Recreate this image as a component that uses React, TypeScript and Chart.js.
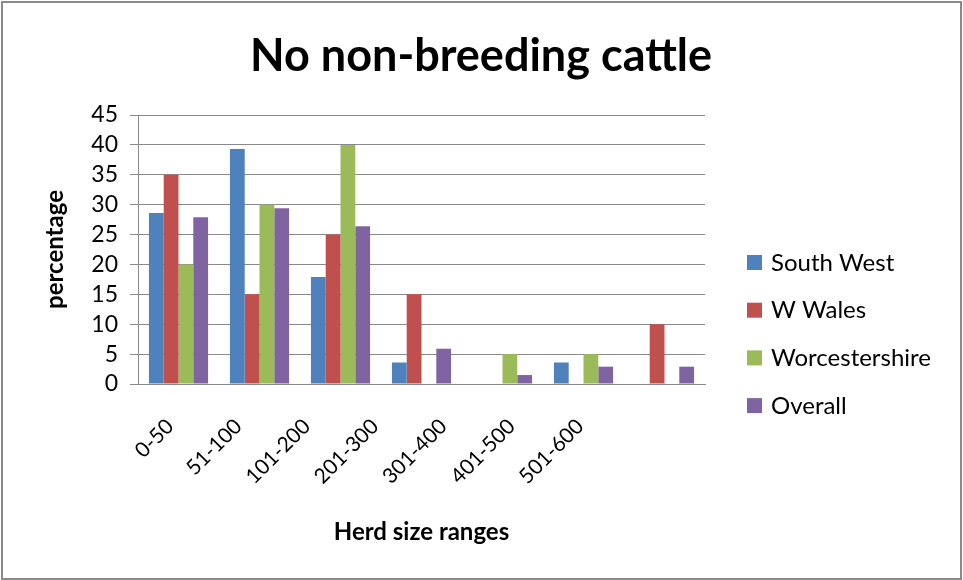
import React, { useEffect, useRef } from "react";
import { Chart, registerables } from "chart.js";

Chart.register(...registerables);

const categories = ["0-50", "51-100", "101-200", "201-300", "301-400", "401-500", "501-600"];
const seriesNames = ["South West", "W Wales", "Worcestershire", "Overall"];
const southWest = [28.6, 39.3, 17.9, 3.6, 0, 3.6, 0];
const wWales = [35, 15, 25, 15, 0, 0, 10];
const worcestershire = [20, 30, 40, 0, 5, 5, 0];
const overall = [27.9, 29.4, 26.4, 5.9, 1.5, 2.9, 2.9];
const seriesColors = ["#4F81BD", "#C0504D", "#9BBB59", "#8064A2"];
const yTicks = [0, 5, 10, 15, 20, 25, 30, 35, 40, 45];
const chartTitle = "No non-breeding cattle";

const FONT = "Lato, 'Open Sans', sans-serif";

const frameTitleLegend = {
  id: "frameTitleLegend",
  beforeDraw(chart: any) {
    const { ctx, width, height } = chart;
    ctx.save();
    ctx.fillStyle = "#ffffff";
    ctx.fillRect(0, 0, width, height);
    ctx.strokeStyle = "#8a8a8a";
    ctx.lineWidth = 2;
    ctx.strokeRect(2, 2, width - 4, height - 3);
    ctx.restore();
  },
  afterDraw(chart: any) {
    const { ctx } = chart;
    ctx.save();
    // title
    ctx.font = `bold 45px ${FONT}`;
    ctx.fillStyle = "#000000";
    ctx.textAlign = "center";
    ctx.textBaseline = "alphabetic";
    ctx.fillText(chartTitle, 481, 71);
    // legend
    const x0 = 747;
    const yStart = 262;
    const step = 47.7;
    ctx.font = `24px ${FONT}`;
    ctx.textBaseline = "middle";
    ctx.textAlign = "left";
    chart.data.datasets.forEach((ds: any, i: number) => {
      const y = yStart + i * step;
      ctx.fillStyle = ds.backgroundColor;
      ctx.fillRect(x0, y - 7, 15, 15);
      ctx.fillStyle = "#000000";
      ctx.fillText(ds.label, x0 + 24, y + 1);
    });
    ctx.restore();
  },
};

export default function App() {
  const ref = useRef<HTMLCanvasElement | null>(null);
  useEffect(() => {
    document.body.style.margin = "0";
    const canvas = ref.current!;
    const values = [southWest, wWales, worcestershire, overall];
    const chart = new Chart(canvas, {
      type: "bar",
      data: {
        labels: categories,
        datasets: seriesNames.map((name, i) => ({
          label: name,
          data: values[i],
          backgroundColor: seriesColors[i],
          borderWidth: 0,
          barPercentage: 1,
          categoryPercentage: 0.73,
          xAxisID: "x",
        })),
      },
      options: {
        responsive: false,
        animation: false,
        devicePixelRatio: 1,
        layout: { padding: { left: 0, right: 258, top: 115, bottom: 0 } },
        plugins: {
          legend: { display: false },
          tooltip: { enabled: false },
          title: { display: false },
        },
        scales: {
          x: {
            type: "category",
            position: "bottom",
            weight: 0,
            grid: { display: false },
            border: { display: true, color: "#8a8a8a", width: 1 },
            ticks: { display: false },
            afterFit(scale: any) {
              scale.height = 0;
            },
          },
          xl: {
            type: "linear",
            position: "bottom",
            weight: 1,
            bounds: "data",
            offset: false,
            min: -0.47,
            max: 7.83,
            afterBuildTicks(scale: any) {
              scale.ticks = categories.map((_, i) => ({ value: i }));
            },
            grid: { display: false },
            border: { display: false },
            ticks: {
              color: "#000000",
              font: { family: FONT, size: 21 },
              minRotation: 45,
              maxRotation: 45,
              padding: 22,
              autoSkip: false,
              callback: (v: any) => categories[Math.round(Number(v))] ?? "",
            },
            title: {
              display: true,
              text: "Herd size ranges",
              color: "#000000",
              font: { family: FONT, size: 24, weight: "bold" },
              padding: { top: 4, bottom: 33 },
            },
            afterFit(scale: any) {
              scale.height = 196;
            },
          },
          y: {
            min: 0,
            max: 45,
            afterBuildTicks(scale: any) {
              scale.ticks = yTicks.map((v) => ({ value: v }));
            },
            grid: { color: "#8a8a8a", tickLength: 8, drawTicks: true },
            border: { display: true, color: "#8a8a8a", width: 1 },
            ticks: {
              color: "#000000",
              font: { family: FONT, size: 23 },
              padding: 12,
              autoSkip: false,
            },
            title: {
              display: true,
              text: "percentage",
              color: "#000000",
              font: { family: FONT, size: 24, weight: "bold" },
              padding: { top: 41, bottom: 4 },
            },
            afterFit(scale: any) {
              scale.width = 138;
            },
          },
        },
      },
      plugins: [frameTitleLegend],
    });
    return () => chart.destroy();
  }, []);
  return <canvas ref={ref} width={963} height={580} style={{ display: "block" }} />;
}
